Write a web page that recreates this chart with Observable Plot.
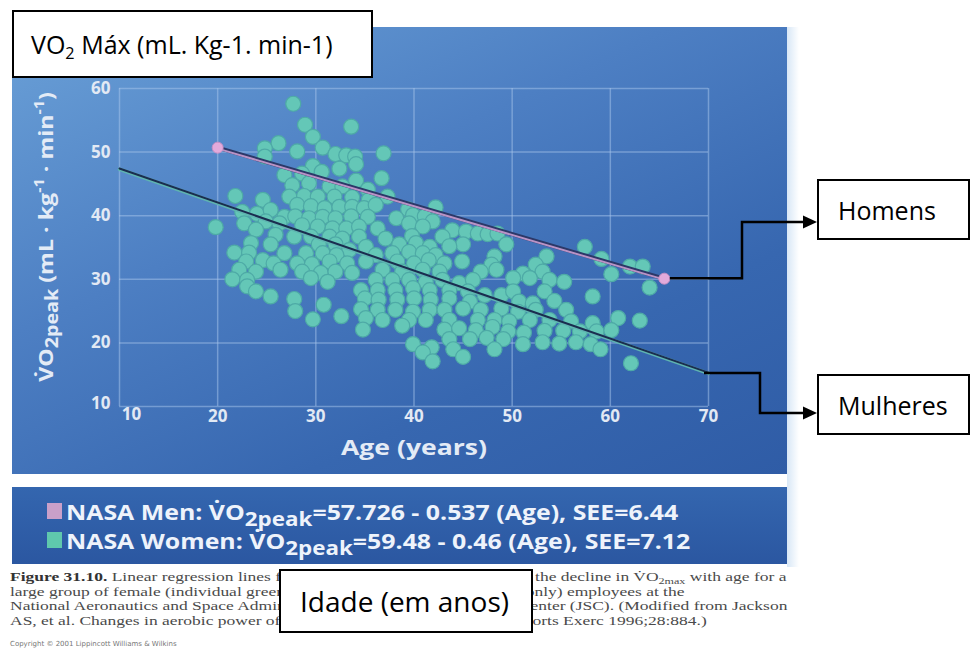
<!DOCTYPE html>
<html>
<head>
<meta charset="utf-8">
<script src="https://cdn.jsdelivr.net/npm/d3@7"></script>
<script src="https://cdn.jsdelivr.net/npm/@observablehq/plot@0.6"></script>
<style>
  body { margin: 0; background: #fff; }
  #page { position: relative; width: 972px; height: 653px; overflow: hidden; background: #fff; font-family: "Open Sans", sans-serif; }
  #panel { position: absolute; left: 12px; top: 27px; width: 775px; height: 447px;
    background: linear-gradient(155deg, #6aa0d7 0%, #4d7fc3 38%, #3767b0 72%, #2f5ca6 100%); }
  #panelGlow { position: absolute; left: 787px; top: 27px; width: 12px; height: 540px;
    background: linear-gradient(90deg, rgba(190,215,240,0.6), rgba(255,255,255,0)); }
  #legendPanel { position: absolute; left: 12px; top: 487px; width: 775px; height: 77px;
    background: linear-gradient(180deg, #3466af, #2b57a1); }
  .legRow { position: absolute; left: 47px; height: 28px; display: flex; align-items: center;
    color: #eef3fb; font-weight: 700; font-size: 22px; white-space: nowrap; font-family: "Open Sans", sans-serif; }
  .legText { display: inline-block; transform-origin: 0 50%; }
  .sw { width: 15px; height: 16px; margin-right: 4px; display: inline-block; flex: none; }
  .legRow sub { font-size: 0.9em; vertical-align: -0.3em; line-height: 0; }
  #plotWrap { position: absolute; left: 0; top: 0; }
  #yTitle { position: absolute; left: 45px; top: 237px;
    color: #e3ebf6; font-weight: 700; font-size: 20px; white-space: nowrap; font-family: "Open Sans", sans-serif; }
  #yTitle sub { font-size: 0.85em; vertical-align: -0.3em; line-height: 0; }
  #yTitle sup { font-size: 0.7em; vertical-align: 0.6em; line-height: 0; }
  #xTitle { position: absolute; left: 414px; top: 446px;
    color: #e3ebf6; font-weight: 700; font-size: 22px; white-space: nowrap; font-family: "Open Sans", sans-serif; }
  #caption { position: absolute; left: 10px; top: 570px; font-family: "Liberation Serif", serif;
    font-size: 13px; color: #4a4a4a; }
  .capLine { height: 14.5px; line-height: 14.5px; white-space: nowrap; width: max-content; transform-origin: 0 50%; }
  .capLine sub { font-size: 9px; line-height: 0; vertical-align: -0.3em; }
  .capLine b { color: #333; }
  #copyright { position: absolute; left: 10px; top: 640px; font-family: "DejaVu Sans", sans-serif; font-size: 7px; color: #777; }
  .box { position: absolute; box-sizing: border-box; border: 2px solid #000; background: #fff;
    display: flex; align-items: center; font-family: "Open Sans", sans-serif; color: #000; white-space: nowrap; }
  .box span { display: inline-block; }
  .box sub { font-size: 0.65em; vertical-align: -0.3em; line-height: 0; }
  #overlay { position: absolute; left: 0; top: 0; }
</style>
</head>
<body>
<div id="page">
  <div id="panel"></div>
  <div id="panelGlow"></div>
  <div id="legendPanel"></div>
  <div id="plotWrap"></div>
  <div id="yTitle"></div>
  <div id="xTitle"></div>
  <div id="caption"></div>
  <div id="copyright"></div>
</div>
<script>
// ---------- data ----------
const xTicks = [10, 20, 30, 40, 50, 60, 70];
const yTicks = [10, 20, 30, 40, 50, 60];

// individual women (age, VO2peak)
const womenPoints = [
[27.7,57.6],[28.9,54.3],[33.6,54.0],[29.7,52.4],[26.2,51.4],[24.8,50.6],[30.7,50.7],[28.1,50.1],[24.8,49.3],[32.0,49.7],[33.1,49.5],[34.0,49.3],[36.9,49.8],[34.1,48.1],[32.4,47.4],[29.7,47.8],[26.8,46.4],[28.6,46.6],[30.6,46.9],[34.1,45.5],[36.7,45.9],[27.6,44.8],[29.3,45.1],[31.4,44.6],[32.7,44.6],[35.3,44.1],[37.3,43.0],[27.3,43.0],[28.8,43.1],[30.2,43.0],[31.9,43.0],[33.7,42.9],[35.4,42.5],[21.8,43.1],[24.6,42.5],[28.1,41.7],[29.5,41.5],[30.9,41.2],[32.4,41.4],[33.7,41.4],[34.9,41.2],[36.1,41.7],[39.4,41.0],[42.2,41.3],[22.5,40.6],[24.0,40.3],[25.4,40.9],[26.8,39.8],[27.9,39.9],[29.3,39.6],[30.7,39.8],[32.0,39.6],[33.6,39.9],[35.3,39.8],[38.2,39.6],[39.9,40.1],[41.1,39.9],[41.9,39.1],[22.7,38.8],[24.9,39.1],[26.3,38.8],[28.6,38.5],[30.2,38.3],[31.7,38.0],[33.1,38.0],[34.4,38.3],[36.3,38.0],[39.5,38.8],[40.9,38.3],[43.9,37.7],[45.3,37.5],[46.5,37.2],[47.5,37.1],[48.5,37.2],[19.8,38.2],[23.9,37.8],[25.9,37.0],[27.8,36.7],[29.5,36.7],[31.4,36.7],[32.7,36.4],[34.4,36.7],[37.1,36.4],[39.8,36.8],[42.9,36.7],[45.0,35.5],[49.4,35.5],[57.4,35.1],[23.4,35.7],[25.4,35.5],[30.3,35.5],[32.0,35.5],[33.4,34.6],[35.1,35.1],[38.5,35.5],[40.2,35.7],[41.6,35.1],[43.6,35.2],[21.7,34.2],[23.2,34.2],[26.8,34.1],[29.0,34.1],[30.7,34.1],[32.1,33.8],[36.1,33.8],[37.8,34.1],[39.5,34.3],[40.9,34.1],[42.2,33.8],[48.2,33.6],[53.5,33.6],[59.1,33.2],[62.0,32.0],[63.3,32.0],[22.9,32.8],[24.6,33.0],[25.7,32.5],[28.1,32.5],[29.6,32.4],[31.4,32.8],[33.2,32.5],[35.1,32.8],[38.3,32.8],[40.0,32.5],[41.5,33.0],[43.1,32.5],[44.9,32.8],[47.9,32.3],[52.4,32.3],[22.2,31.5],[23.9,31.2],[26.4,31.5],[28.6,31.2],[30.5,31.0],[32.0,31.2],[33.7,31.0],[36.8,31.5],[38.8,31.2],[40.9,31.5],[42.6,31.2],[46.8,31.2],[48.4,31.5],[51.1,30.9],[53.1,31.2],[60.1,30.8],[21.5,30.0],[23.0,29.9],[29.5,30.2],[31.2,29.6],[36.1,29.9],[37.8,29.9],[39.5,29.9],[41.2,29.6],[42.9,29.9],[44.6,29.4],[46.0,29.9],[50.1,30.2],[51.8,30.2],[53.8,29.9],[55.3,29.6],[64.0,28.7],[23.0,28.9],[23.9,28.1],[34.6,28.3],[36.3,28.3],[38.1,28.3],[39.9,28.6],[41.6,28.3],[43.6,28.3],[45.5,28.1],[47.2,27.5],[48.9,27.5],[50.1,28.1],[53.3,28.1],[58.2,27.3],[25.4,27.3],[27.8,26.9],[35.0,27.0],[36.4,26.8],[38.3,26.8],[40.0,27.0],[41.7,26.8],[43.6,27.0],[45.7,26.5],[50.7,26.5],[52.1,26.2],[54.3,26.6],[30.8,26.0],[27.9,25.0],[34.6,25.3],[36.3,25.2],[38.1,25.2],[39.9,24.9],[41.6,25.2],[43.1,25.2],[45.0,25.4],[46.8,25.2],[48.9,25.4],[50.6,24.9],[52.4,25.2],[55.5,25.2],[32.6,24.2],[29.7,23.7],[35.1,23.9],[36.8,23.6],[39.5,23.6],[41.2,23.6],[43.6,23.6],[46.5,23.6],[48.2,23.6],[49.7,23.4],[51.8,23.6],[53.8,23.6],[56.0,23.4],[58.2,23.1],[60.8,23.9],[63.0,23.5],[34.8,22.1],[38.8,22.7],[43.1,22.1],[44.6,22.3],[46.3,22.0],[48.0,22.5],[49.6,21.8],[51.2,21.6],[53.3,21.9],[55.2,21.9],[56.9,21.8],[58.6,21.8],[60.1,22.0],[43.6,20.6],[45.7,20.6],[47.4,20.8],[49.1,20.6],[51.1,19.8],[53.1,20.1],[54.8,19.9],[56.5,20.1],[58.0,19.8],[39.9,19.8],[41.8,19.3],[44.0,19.0],[48.2,19.0],[59.0,19.0],[40.9,18.5],[45.0,17.8],[41.9,17.1],[62.1,16.8]
];

// regression lines as drawn (age, VO2peak)
const menLine = [[20, 50.7], [65.5, 30.1]];
const womenLine = [[10, 47.3], [70, 15.2]];

// legend
const legendNames = ["NASA Men", "NASA Women"];
const legendIntercepts = ["57.726", "59.48"];
const legendSlopes = ["0.537", "0.46"];
const legendSEE = ["6.44", "7.12"];
const legendColors = ["#c9a0c9", "#5fc8ad"];

// texts
const yTitleHTML = "V&#775;O<sub>2peak</sub> (mL · kg<sup>-1</sup> · min<sup>-1</sup>)";
const xTitleText = "Age (years)";
const captionLines = [
  "<b>Figure 31.10.</b> Linear regression lines from a cross-sectional assessment of the decline in V&#775;O<sub>2max</sub> with age for a",
  "large group of female (individual green circles) and male (regression line only) employees at the",
  "National Aeronautics and Space Administration (NASA) Johnson Space Center (JSC). (Modified from Jackson",
  "AS, et al. Changes in aerobic power of women, ages 20–64 yr. Med Sci Sports Exerc 1996;28:884.)"
];
const copyrightText = "Copyright © 2001 Lippincott Williams & Wilkins";
const boxTopText = "VO<sub>2</sub> Máx (mL. Kg-1. min-1)";
const boxMenText = "Homens";
const boxWomenText = "Mulheres";
const boxAgeText = "Idade (em anos)";

// ---------- chart ----------
const tickFont = "Open Sans";
const tickColor = "#e2e9f4";
const plot = Plot.plot({
  width: 972,
  height: 653,
  marginLeft: 119,
  marginRight: 264,
  marginTop: 88,
  marginBottom: 247,
  style: { background: "transparent", overflow: "visible" },
  x: { domain: [10, 70], axis: null },
  y: { domain: [10, 60], axis: null },
  marks: [
    Plot.ruleX(xTicks, { stroke: "#a8c5ec", strokeOpacity: 0.5, strokeWidth: 1.5 }),
    Plot.ruleY(yTicks, { stroke: "#a8c5ec", strokeOpacity: 0.5, strokeWidth: 1.5 }),
    Plot.dot(womenPoints, { x: d => d[0], y: d => d[1], r: 7.5, fill: "#64c7b7", stroke: "#4eaaa6", strokeWidth: 1.2 }),
    Plot.line(womenLine, { x: d => d[0], y: d => d[1], stroke: "#5fb4b0", strokeWidth: 3.5 }),
    Plot.line(womenLine, { x: d => d[0], y: d => d[1], stroke: "#1a2d4f", strokeWidth: 2, dy: -0.8 }),
    Plot.line(menLine, { x: d => d[0], y: d => d[1], stroke: "#2c3868", strokeWidth: 4 }),
    Plot.line(menLine, { x: d => d[0], y: d => d[1], stroke: "#b993c6", strokeWidth: 2, dy: 1 }),
    Plot.dot(menLine, { x: d => d[0], y: d => d[1], r: 5.5, fill: "#e3aadb", stroke: "#c98fc4", strokeWidth: 1 }),
    // tick labels
    Plot.text(xTicks.slice(1), { x: d => d, frameAnchor: "bottom", dy: 15, text: d => String(d),
      fill: tickColor, fontSize: 17, fontWeight: 700, fontFamily: tickFont }),
    Plot.text(xTicks.slice(0, 1), { x: d => d, frameAnchor: "bottom", dy: 13, dx: 12, text: d => String(d),
      fill: tickColor, fontSize: 17, fontWeight: 700, fontFamily: tickFont }),
    Plot.text(yTicks.slice(1), { y: d => d, frameAnchor: "left", dx: -9, textAnchor: "end", text: d => String(d),
      fill: tickColor, fontSize: 17, fontWeight: 700, fontFamily: tickFont }),
    Plot.text(yTicks.slice(0, 1), { y: d => d, frameAnchor: "left", dx: -9, dy: -3, textAnchor: "end", text: d => String(d),
      fill: tickColor, fontSize: 17, fontWeight: 700, fontFamily: tickFont })
  ]
});
document.getElementById("plotWrap").appendChild(plot);

// stretch helper (the source figure is horizontally stretched)
function fitScale(el, target) { return target / el.offsetWidth; }

const yT = document.getElementById("yTitle");
yT.innerHTML = yTitleHTML;
yT.style.transform = `translate(-50%, -50%) rotate(-90deg) scaleX(${fitScale(yT, 290)})`;
const xT = document.getElementById("xTitle");
xT.textContent = xTitleText;
xT.style.transform = `translate(-50%, -50%) scaleX(${fitScale(xT, 146)})`;

// legend rows
const page = document.getElementById("page");
let legK = null;
legendNames.forEach((name, i) => {
  const row = document.createElement("div");
  row.className = "legRow";
  row.style.top = (497 + i * 29) + "px";
  row.innerHTML = `<span class="sw" style="background:${legendColors[i]}"></span>` +
    `<span class="legText">${name}: V&#775;O<sub>2peak</sub>=${legendIntercepts[i]} - ${legendSlopes[i]} (Age), SEE=${legendSEE[i]}</span>`;
  page.appendChild(row);
  const t = row.querySelector(".legText");
  if (legK === null) legK = fitScale(t, 612);
  t.style.transform = `scaleX(${legK})`;
});

// caption
const cap = document.getElementById("caption");
let capK = null;
captionLines.forEach((html) => {
  const l = document.createElement("div");
  l.className = "capLine";
  l.innerHTML = html;
  cap.appendChild(l);
  if (capK === null) capK = fitScale(l, 776);
  l.style.transform = `scaleX(${capK})`;
});
document.getElementById("copyright").textContent = copyrightText;

// ---------- annotation connectors ----------
const sx = plot.scale("x"), sy = plot.scale("y");
const menEnd = menLine[menLine.length - 1];
const womenEnd = womenLine[womenLine.length - 1];
const mx = sx.apply(menEnd[0]) + 6, my = sy.apply(menEnd[1]);
const wx = sx.apply(womenEnd[0]) - 4, wy = sy.apply(womenEnd[1]);

const svg = d3.select(page).append("svg").attr("id", "overlay").attr("width", 972).attr("height", 653);
const boxLeft = 817;
function connector(x0, y0, xBend, yTarget) {
  svg.append("path")
    .attr("d", `M${x0},${y0}H${xBend}V${yTarget}H${boxLeft - 12}`)
    .attr("fill", "none").attr("stroke", "#000").attr("stroke-width", 2.5);
  svg.append("path")
    .attr("d", `M${boxLeft - 14},${yTarget - 6.5}L${boxLeft},${yTarget}L${boxLeft - 14},${yTarget + 6.5}Z`)
    .attr("fill", "#000");
}
connector(mx, my, 742, 222);
connector(wx, wy, 760, 413);

// ---------- text boxes ----------
function addBox(html, left, top, w, h, fs, pad) {
  const b = document.createElement("div");
  b.className = "box";
  Object.assign(b.style, { left: left + "px", top: top + "px", width: w + "px", height: h + "px",
    fontSize: fs + "px", paddingLeft: pad + "px" });
  b.innerHTML = `<span>${html}</span>`;
  page.appendChild(b);
}
addBox(boxTopText, 12, 10, 361, 68, 25, 17);
addBox(boxMenText, 817, 179, 153, 61, 25, 19);
addBox(boxWomenText, 817, 374, 153, 61, 25, 19);
addBox(boxAgeText, 279, 569, 254, 64, 28, 19);
</script>
</body>
</html>
